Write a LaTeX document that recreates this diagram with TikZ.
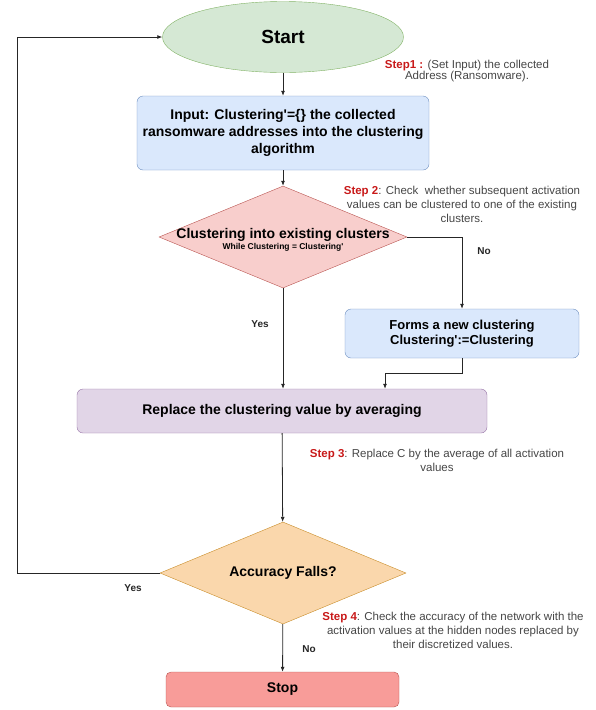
\documentclass[tikz,border=0pt]{standalone}
\usepackage{fontspec}
\setmainfont{Liberation Sans}
\usetikzlibrary{arrows.meta, positioning, shapes.geometric}
\definecolor{startfill}{RGB}{213, 232, 212}
\definecolor{startline}{RGB}{130, 179, 102}
\definecolor{procfill}{RGB}{218, 232, 252}
\definecolor{procline}{RGB}{108, 142, 191}
\definecolor{decfill}{RGB}{248, 206, 204}
\definecolor{decline}{RGB}{184, 84, 80}
\definecolor{avgfill}{RGB}{225, 213, 231}
\definecolor{avgline}{RGB}{150, 115, 166}
\definecolor{accfill}{RGB}{250, 215, 172}
\definecolor{accline}{RGB}{200, 140, 40}
\definecolor{stopfill}{RGB}{248, 156, 153}
\definecolor{stopline}{RGB}{184, 84, 80}
\definecolor{stepred}{RGB}{200, 25, 25}
\definecolor{notegray}{RGB}{70, 70, 70}
\newcommand{\steptag}[1]{\textcolor{stepred}{\bfseries #1}}

\begin{document}
\begin{tikzpicture}[x=1pt, y=-1pt,
        startell/.style={ellipse, draw=startline, fill=startfill, minimum width=241pt, minimum height=71pt, font=\fontsize{19}{22}\selectfont\bfseries},
        proc/.style={draw=procline, fill=procfill, rounded corners=6pt, align=center},
        dec/.style={diamond, draw=#1line, fill=#1fill, inner sep=0pt, minimum width=248pt, minimum height=102pt},
        avgbox/.style={draw=avgline, fill=avgfill, rounded corners=6pt, minimum width=410pt, minimum height=44pt, font=\fontsize{14}{17}\selectfont\bfseries},
        stopbox/.style={draw=stopline, fill=stopfill, rounded corners=5pt, minimum width=233pt, minimum height=35pt, font=\fontsize{14}{17}\selectfont\bfseries},
        arr/.style={-{Latex[length=5pt, width=4pt]}, line width=0.8pt, black!85},
        lbl/.style={font=\fontsize{10}{12}\selectfont\bfseries, text=black!85},
        note/.style={align=center, text=notegray, inner sep=0pt, font=\fontsize{11.5}{14}\selectfont}
      ]
        \useasboundingbox (0,0) rectangle (595,710);
        \node[startell] (start) at (283,37) {Start};
        \node[proc, minimum width=292pt, minimum height=74pt, font=\fontsize{14}{17}\selectfont\bfseries] (inp) at (283,133)
          {Input: Clustering\textquotesingle=\{\} the collected\\ransomware addresses into the clustering\\algorithm};
        \node[dec=dec] (clu) at (283,237) {};
        \node[align=center, inner sep=0pt] (clutxt) at ([yshift=-3pt]clu.center) {{\fontsize{14}{12}\selectfont\bfseries Clustering into existing clusters}\\[-1pt]
          {\fontsize{8.5}{10}\selectfont\bfseries While Clustering = Clustering\textquotesingle}};
        \node[proc, minimum width=234pt, minimum height=49pt, font=\fontsize{13}{15}\selectfont\bfseries] (forms) at (462,333.5)
          {Forms a new clustering\\Clustering\textquotesingle:=Clustering};
        \node[avgbox] (repl) at (282,411) {Replace the clustering value by averaging};
        \node[dec=acc, minimum width=246pt] (acc) at (283,573) {};
        \node[font=\fontsize{14}{17}\selectfont\bfseries, inner sep=0pt] (acctxt) at (acc) {Accuracy Falls?};
        \node[stopbox] (stop) at (282.5,689.5) {Stop};

        \draw[arr] (start) -- (inp);
        \draw[arr] (inp) -- (clu);
        \draw[arr] (clu.east) -| (forms.north);
        \draw[arr] (clu.south) -- (clu.south |- repl.north);
        \draw[arr] (forms.south) -- ++(0,15) -| ([xshift=103pt]repl.north);
        \draw[arr] (repl) -- (acc);
        \draw[arr] (acc.west) -- ++(-142,0) |- (start.west);
        \draw[arr] (acc) -- (stop);

        % Yes / No feliratok
        \node[lbl] (no1) at (484,251) {No};
        \node[lbl] (yes1) at (260,324) {Yes};
        \node[lbl] (yes2) at (133,588) {Yes};
        \node[lbl] (no2) at (309,649) {No};

        % Step notes
        \node[note, font=\fontsize{11.5}{11.5}\selectfont] (s1) at (467,71) {\steptag{Step1 :} (Set Input) the collected\\Address (Ransomware).};
        \node[note] (s2) at (462,204) {\steptag{Step 2}: Check~ whether subsequent activation\\values can be clustered to one of the existing\\clusters.};
        \node[note] (s3) at (437,460) {\steptag{Step 3}: Replace C by the average of all activation\\values};
        \node[note] (s4) at (453,630.5) {\steptag{Step 4}: Check the accuracy of the network with the\\activation values at the hidden nodes replaced by\\their discretized values.};
      \end{tikzpicture}
\end{document}
